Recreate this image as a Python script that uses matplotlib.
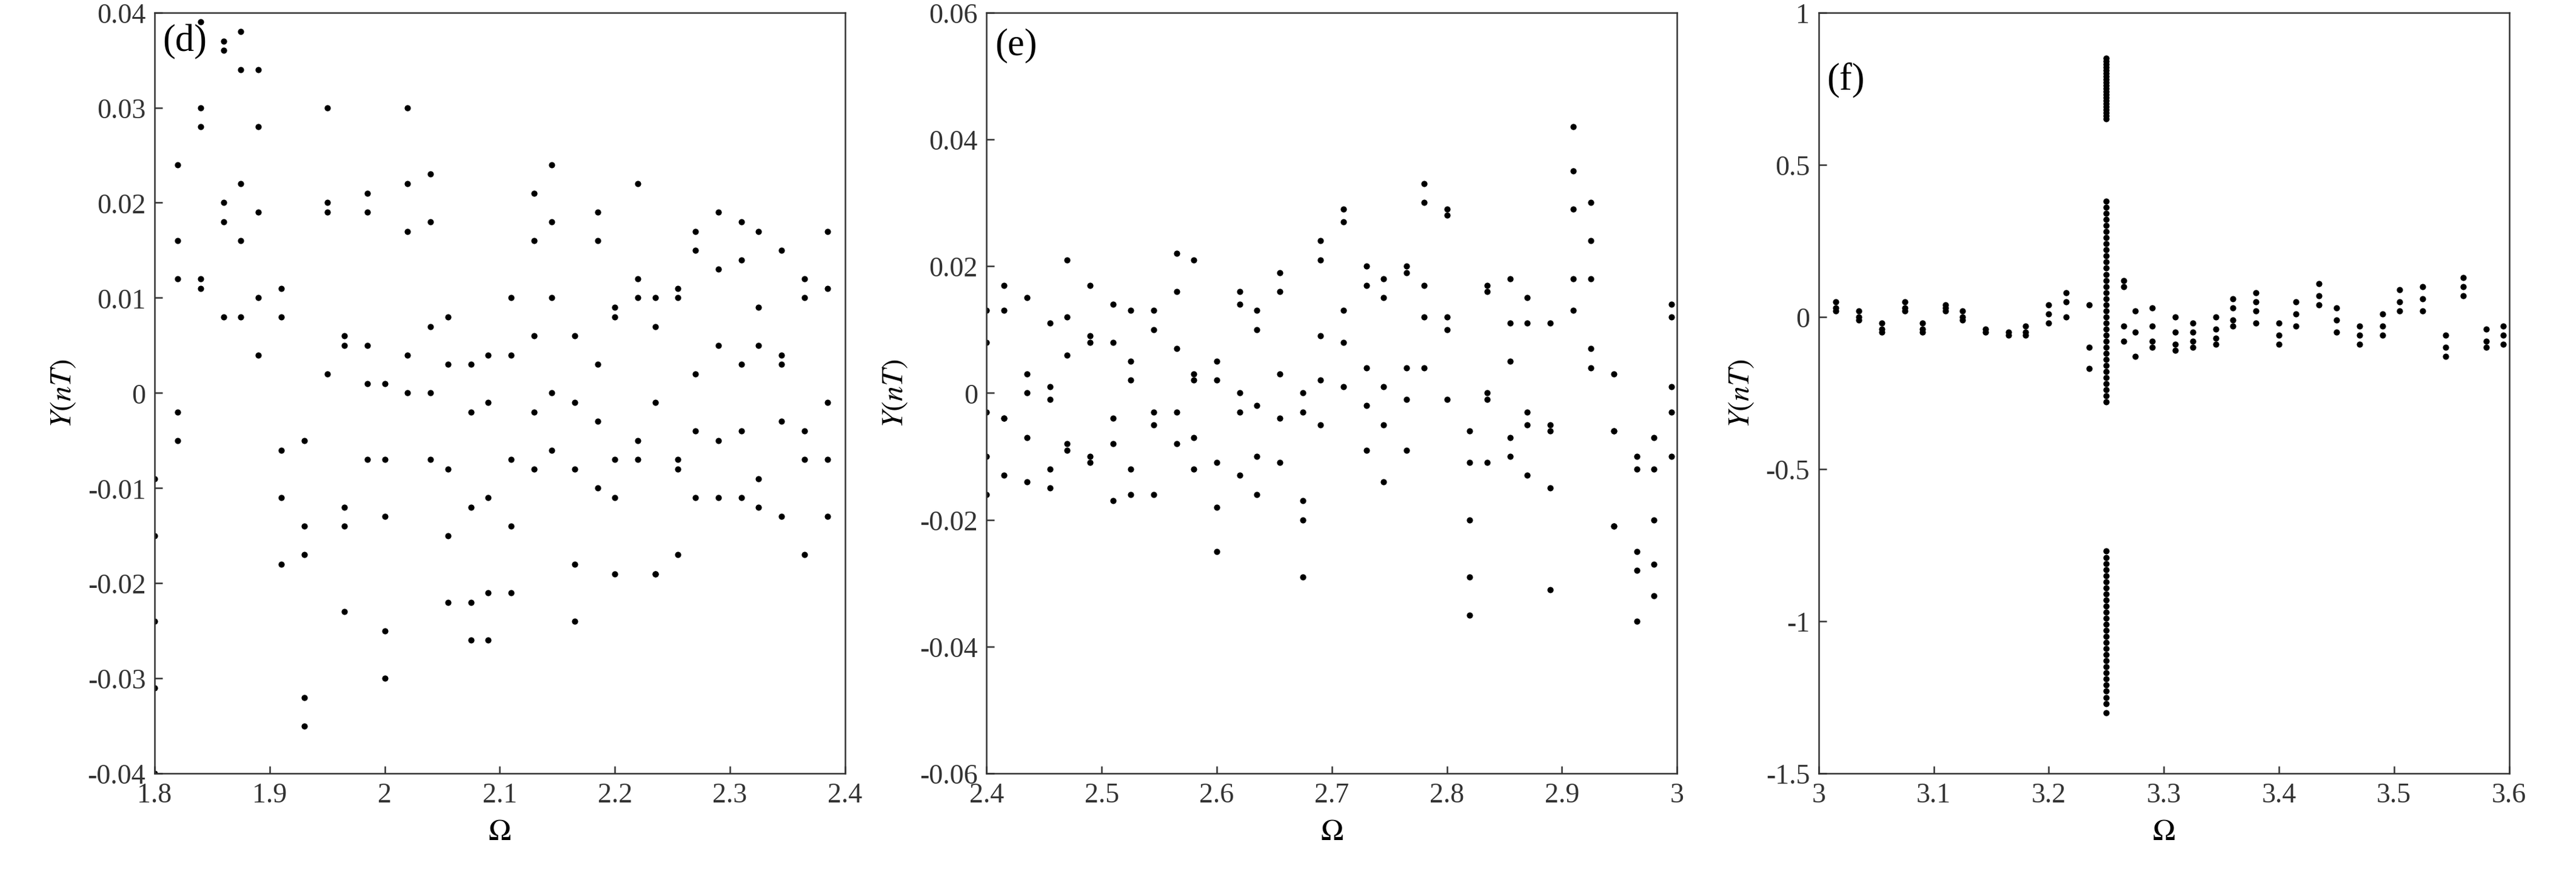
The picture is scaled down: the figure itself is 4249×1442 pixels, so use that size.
import matplotlib.pyplot as plt

plt.rcParams['font.family'] = ['Liberation Serif', 'DejaVu Serif']
plt.rcParams['mathtext.fontset'] = 'stix'

# Panel (d): Omega values and the sampled Y values at each
d_omega = [1.80, 1.82, 1.84, 1.86, 1.875, 1.89, 1.91, 1.93, 1.95, 1.965, 1.985, 2.0,
           2.02, 2.04, 2.055, 2.075, 2.09, 2.11, 2.13, 2.145, 2.165, 2.185, 2.2, 2.22,
           2.235, 2.255, 2.27, 2.29, 2.31, 2.325, 2.345, 2.365, 2.385]
d_y = [
    [-0.009, -0.015, -0.024, -0.031, -0.040],
    [0.024, 0.016, 0.012, -0.002, -0.005],
    [0.039, 0.030, 0.028, 0.012, 0.011],
    [0.037, 0.036, 0.020, 0.018, 0.008],
    [0.038, 0.034, 0.022, 0.016, 0.008],
    [0.034, 0.028, 0.019, 0.010, 0.004],
    [0.011, 0.008, -0.006, -0.011, -0.018],
    [-0.005, -0.014, -0.017, -0.032, -0.035],
    [0.030, 0.020, 0.019, 0.002],
    [0.006, 0.005, -0.012, -0.014, -0.023],
    [0.021, 0.019, 0.005, 0.001, -0.007],
    [0.001, -0.007, -0.013, -0.025, -0.030],
    [0.030, 0.022, 0.017, 0.004, 0.000],
    [0.023, 0.018, 0.007, 0.000, -0.007],
    [0.008, 0.003, -0.008, -0.015, -0.022],
    [0.003, -0.002, -0.012, -0.022, -0.026],
    [0.004, -0.001, -0.011, -0.021, -0.026],
    [0.010, 0.004, -0.007, -0.014, -0.021],
    [0.021, 0.016, 0.006, -0.002, -0.008],
    [0.024, 0.018, 0.010, 0.000, -0.006],
    [0.006, -0.001, -0.008, -0.018, -0.024],
    [0.019, 0.016, 0.003, -0.003, -0.010],
    [0.009, 0.008, -0.007, -0.011, -0.019],
    [0.022, 0.012, 0.010, -0.005, -0.007],
    [0.010, 0.007, -0.001, -0.019, -0.019],
    [0.011, 0.010, -0.007, -0.008, -0.017],
    [0.017, 0.015, 0.002, -0.004, -0.011],
    [0.019, 0.013, 0.005, -0.005, -0.011],
    [0.018, 0.014, 0.003, -0.004, -0.011],
    [0.017, 0.009, 0.005, -0.009, -0.012],
    [0.015, 0.004, 0.003, -0.003, -0.013],
    [0.012, 0.010, -0.004, -0.007, -0.017],
    [0.017, 0.011, -0.001, -0.007, -0.013],
]

# Panel (e)
e_omega = [2.40, 2.415, 2.435, 2.455, 2.47, 2.49, 2.51, 2.525, 2.545, 2.565, 2.58, 2.6,
           2.62, 2.635, 2.655, 2.675, 2.69, 2.71, 2.73, 2.745, 2.765, 2.78, 2.8, 2.82,
           2.835, 2.855, 2.87, 2.89, 2.91, 2.925, 2.945, 2.965, 2.98, 2.995]
e_y = [
    [0.013, 0.008, -0.003, -0.010, -0.016],
    [0.017, 0.013, -0.004, -0.004, -0.013],
    [0.015, 0.003, 0.000, -0.007, -0.014],
    [0.011, 0.001, -0.001, -0.012, -0.015],
    [0.021, 0.012, 0.006, -0.008, -0.009],
    [0.017, 0.009, 0.008, -0.010, -0.011],
    [0.014, 0.008, -0.004, -0.008, -0.017],
    [0.013, 0.005, 0.002, -0.012, -0.016],
    [0.013, 0.010, -0.003, -0.005, -0.016],
    [0.022, 0.016, 0.007, -0.003, -0.008],
    [0.021, 0.003, 0.002, -0.007, -0.012],
    [0.005, 0.002, -0.011, -0.018, -0.025],
    [0.016, 0.014, 0.000, -0.003, -0.013],
    [0.013, 0.010, -0.002, -0.010, -0.016],
    [0.019, 0.016, 0.003, -0.004, -0.011],
    [0.000, -0.003, -0.017, -0.020, -0.029],
    [0.024, 0.021, 0.009, 0.002, -0.005],
    [0.029, 0.027, 0.013, 0.008, 0.001],
    [0.020, 0.017, 0.004, -0.002, -0.009],
    [0.018, 0.015, 0.001, -0.005, -0.014],
    [0.020, 0.019, 0.004, -0.001, -0.009],
    [0.033, 0.030, 0.017, 0.012, 0.004],
    [0.029, 0.028, 0.012, 0.010, -0.001],
    [-0.006, -0.011, -0.020, -0.029, -0.035],
    [0.017, 0.016, 0.000, -0.001, -0.011],
    [0.018, 0.011, 0.005, -0.007, -0.010],
    [0.015, 0.011, -0.003, -0.005, -0.013],
    [0.011, -0.005, -0.006, -0.015, -0.031],
    [0.042, 0.035, 0.029, 0.018, 0.013],
    [0.030, 0.024, 0.018, 0.007, 0.004],
    [0.003, -0.006, -0.006, -0.021, -0.021],
    [-0.010, -0.012, -0.025, -0.028, -0.036],
    [-0.007, -0.012, -0.020, -0.027, -0.032],
    [0.014, 0.012, 0.001, -0.003, -0.010],
]

# Panel (f)
f_omega = [3.015, 3.035, 3.055, 3.075, 3.09, 3.11, 3.125, 3.145, 3.165, 3.18, 3.2, 3.215,
           3.235, 3.25, 3.265, 3.275, 3.29, 3.31, 3.325, 3.345, 3.36, 3.38, 3.4, 3.415,
           3.435, 3.45, 3.47, 3.49, 3.505, 3.525, 3.545, 3.56, 3.58, 3.595]
f_dense = [0.85, 0.84, 0.83, 0.82, 0.81, 0.80, 0.79, 0.78, 0.77, 0.76, 0.75, 0.74, 0.73,
           0.72, 0.71, 0.70, 0.69, 0.68, 0.67, 0.66, 0.65,
           0.38, 0.36, 0.34, 0.32, 0.30, 0.28, 0.26, 0.24, 0.22, 0.20, 0.18, 0.16, 0.14,
           0.12, 0.10, 0.08, 0.06, 0.04, 0.02, 0.00, -0.02, -0.04, -0.06, -0.08, -0.10,
           -0.12, -0.14, -0.16, -0.18, -0.20, -0.22, -0.24, -0.26, -0.28,
           -0.77, -0.79, -0.81, -0.83, -0.85, -0.87, -0.89, -0.91, -0.93, -0.95, -0.97,
           -0.99, -1.01, -1.03, -1.05, -1.07, -1.09, -1.11, -1.13, -1.15, -1.17, -1.19,
           -1.21, -1.23, -1.25, -1.27, -1.30]
f_y = [
    [0.05, 0.03, 0.02], [0.02, 0.00, -0.01], [-0.02, -0.04, -0.05], [0.05, 0.03, 0.02],
    [-0.02, -0.04, -0.05], [0.04, 0.03, 0.02], [0.02, 0.00, -0.01], [-0.04, -0.05],
    [-0.05, -0.06], [-0.03, -0.05, -0.06], [0.04, 0.01, -0.02], [0.08, 0.05, 0.00],
    [0.04, -0.10, -0.17], f_dense, [0.12, 0.10, -0.03, -0.08], [0.02, -0.05, -0.13],
    [0.03, -0.03, -0.08, -0.10], [0.00, -0.05, -0.09, -0.11], [-0.02, -0.05, -0.08, -0.10],
    [0.00, -0.04, -0.07, -0.09], [0.06, 0.03, -0.01, -0.03], [0.08, 0.05, 0.02, -0.02],
    [-0.02, -0.06, -0.09], [0.05, 0.01, -0.03], [0.11, 0.07, 0.04], [0.03, -0.01, -0.05],
    [-0.03, -0.06, -0.09], [0.01, -0.03, -0.06], [0.09, 0.05, 0.02], [0.10, 0.06, 0.02],
    [-0.06, -0.10, -0.13], [0.13, 0.10, 0.07], [-0.04, -0.08, -0.10], [-0.03, -0.06, -0.09],
]


def flatten(omega, ys):
    xs, vs = [], []
    for w, col in zip(omega, ys):
        xs.extend([w] * len(col))
        vs.extend(col)
    return xs, vs


fig = plt.figure(figsize=(4249 / 300, 1443 / 300), dpi=300)
panels = [
    (0.060, d_omega, d_y, (1.8, 2.4), [1.8, 1.9, 2.0, 2.1, 2.2, 2.3, 2.4], ['1.8', '1.9', '2', '2.1', '2.2', '2.3', '2.4'],
     (-0.04, 0.04), [-0.04, -0.03, -0.02, -0.01, 0, 0.01, 0.02, 0.03, 0.04], ['-0.04', '-0.03', '-0.02', '-0.01', '0', '0.01', '0.02', '0.03', '0.04'], '(d)', 0.985),
    (0.383, e_omega, e_y, (2.4, 3.0), [2.4, 2.5, 2.6, 2.7, 2.8, 2.9, 3.0], ['2.4', '2.5', '2.6', '2.7', '2.8', '2.9', '3'],
     (-0.06, 0.06), [-0.06, -0.04, -0.02, 0, 0.02, 0.04, 0.06], ['-0.06', '-0.04', '-0.02', '0', '0.02', '0.04', '0.06'], '(e)', 0.98),
    (0.706, f_omega, f_y, (3.0, 3.6), [3.0, 3.1, 3.2, 3.3, 3.4, 3.5, 3.6], ['3', '3.1', '3.2', '3.3', '3.4', '3.5', '3.6'],
     (-1.5, 1.0), [-1.5, -1, -0.5, 0, 0.5, 1], ['-1.5', '-1', '-0.5', '0', '0.5', '1'], '(f)', 0.935),
]

for left, om, ys, xl, xt, xtl, yl, yt, ytl, tag, ty in panels:
    ax = fig.add_axes([left, 0.115, 0.268, 0.87])
    xs, vs = flatten(om, ys)
    ax.scatter(xs, vs, s=6, c='black', linewidths=0)
    ax.set_xlim(*xl)
    ax.set_ylim(*yl)
    ax.set_xticks(xt)
    ax.set_xticklabels(xtl)
    ax.set_yticks(yt)
    ax.set_yticklabels(ytl)
    ax.tick_params(direction='in', labelsize=11, width=0.6, length=3, colors='#333333')
    for sp in ax.spines.values():
        sp.set_linewidth(0.6)
        sp.set_color('#333333')
    ax.set_xlabel(r'$\Omega$', fontsize=12)
    ax.set_ylabel(r'$Y(nT)$', fontsize=12)
    ax.text(0.012, ty, tag, transform=ax.transAxes, fontsize=15, va='top', ha='left')

fig.savefig('out.png', dpi=300)
